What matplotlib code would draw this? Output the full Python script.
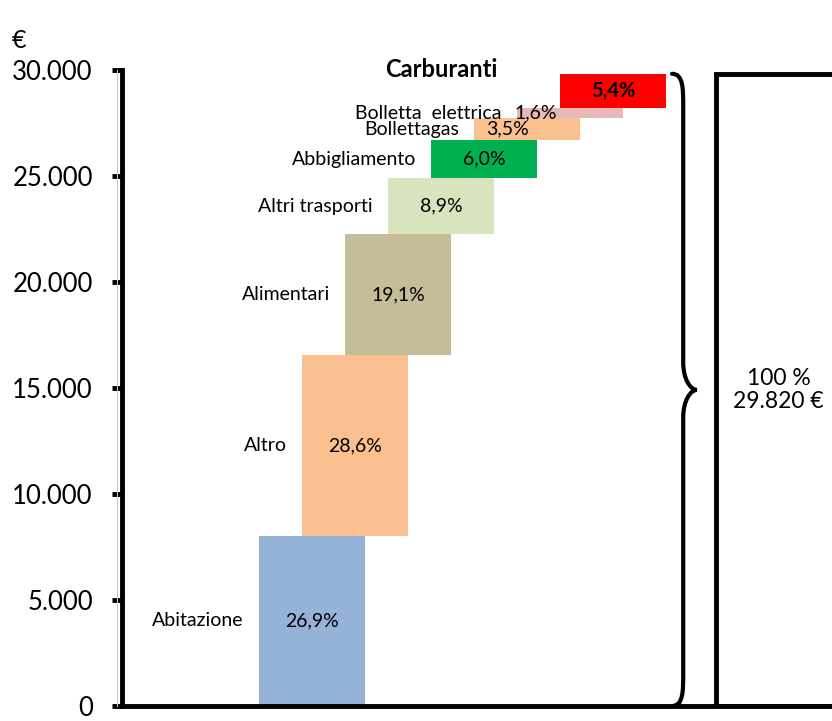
import matplotlib.pyplot as plt
import numpy as np
from matplotlib.patches import Rectangle, PathPatch
from matplotlib.path import Path
from matplotlib.lines import Line2D
from matplotlib.ticker import FuncFormatter

plt.rcParams['font.family'] = ['Lato', 'DejaVu Sans']

# spesa annua media per voce (quota percentuale sul totale)
categories = ["Abitazione", "Altro", "Alimentari", "Altri trasporti", "Abbigliamento",
              "Bollettagas", "Bolletta  elettrica", "Carburanti"]
shares = [26.9, 28.6, 19.1, 8.9, 6.0, 3.5, 1.6, 5.4]
share_labels = ["26,9%", "28,6%", "19,1%", "8,9%", "6,0%", "3,5%", "1,6%", "5,4%"]
total = 29820
total_label = "100 %\n29.820 €"
yticks = [0, 5000, 10000, 15000, 20000, 25000, 30000]

colors = ["#95B3D7", "#FAC090", "#C4BD97", "#D7E4BD", "#00B050",
          "#FAC090", "#E6B9B8", "#FF0000"]
pct_nudge = [0, 0, 0, 0, 0, -0.45, -0.8, 0]

values = np.array(shares) / 100 * total
bottoms = np.concatenate([[0], np.cumsum(values)[:-1]])
xs = np.arange(len(values))
width = 2.47

fig = plt.figure(figsize=(8.32, 7.21), dpi=100)
ax = fig.add_axes([122 / 832, 15 / 721, 710 / 832, 636 / 721])

ax.bar(xs, values, bottom=bottoms, width=width, color=colors, edgecolor="none", zorder=2)

for i, (name, v, b, lab) in enumerate(zip(categories, values, bottoms, share_labels)):
    mid = b + v / 2
    bold = name == "Carburanti"
    ax.text(xs[i] + pct_nudge[i], mid, lab, ha="center", va="center",
            fontsize=14.5 if bold else 14, fontweight="bold" if bold else "normal", zorder=3)
    if bold:
        ax.text(xs[i] - 4.0, b + v + 200, name, ha="center", va="center",
                fontsize=17, fontweight="bold", clip_on=False)
    else:
        ax.text(xs[i] - width / 2 - 0.35, mid, name, ha="right", va="center", fontsize=14)

# colonna del totale
ax.add_patch(Rectangle((9.4, 0), 5, total, facecolor="white", edgecolor="black",
                       linewidth=3.5, zorder=2))
ax.text(10.85, total / 2, total_label, ha="center", va="center", fontsize=16.5,
        linespacing=1.1)

# graffa
xl, xm, xt = 8.37, 8.63, 8.95
mid = total / 2
verts = [(xl, total),
         (xm, total), (xm, total - 700), (xm, total - 1500),
         (xm, mid + 1300),
         (xm, mid + 500), (xt - 0.15, mid), (xt, mid),
         (xt - 0.15, mid), (xm, mid - 500), (xm, mid - 1300),
         (xm, 1500),
         (xm, 700), (xm, 0), (xl, 0)]
codes = [Path.MOVETO,
         Path.CURVE4, Path.CURVE4, Path.CURVE4,
         Path.LINETO,
         Path.CURVE4, Path.CURVE4, Path.CURVE4,
         Path.CURVE4, Path.CURVE4, Path.CURVE4,
         Path.LINETO,
         Path.CURVE4, Path.CURVE4, Path.CURVE4]
ax.add_patch(PathPatch(Path(verts, codes), facecolor="none", edgecolor="black",
                       linewidth=3, capstyle="round", clip_on=False, zorder=3))

ax.set_xlim(-4.42, 12.09)
ax.set_ylim(0, 30000)
ax.set_yticks(yticks)
ax.yaxis.set_major_formatter(FuncFormatter(lambda v, p: f"{int(v):,}".replace(",", ".")))
ax.tick_params(axis="y", labelsize=18.5, length=7, width=3.5, pad=14)
ax.set_xticks([])
for s in ["top", "right"]:
    ax.spines[s].set_visible(False)
ax.spines["left"].set_linewidth(3.5)
ax.spines["bottom"].set_linewidth(3.5)
ax.spines["left"].set_bounds(0, 30000)

fig.add_artist(Line2D([117 / 832, 117 / 832], [15 / 721, 651 / 721], color="#C8C8C8",
                      linewidth=0.8))
fig.text(12 / 832, 1 - 40 / 721, "€", fontsize=18, va="center", ha="left")

plt.savefig("out.png", dpi=100)
